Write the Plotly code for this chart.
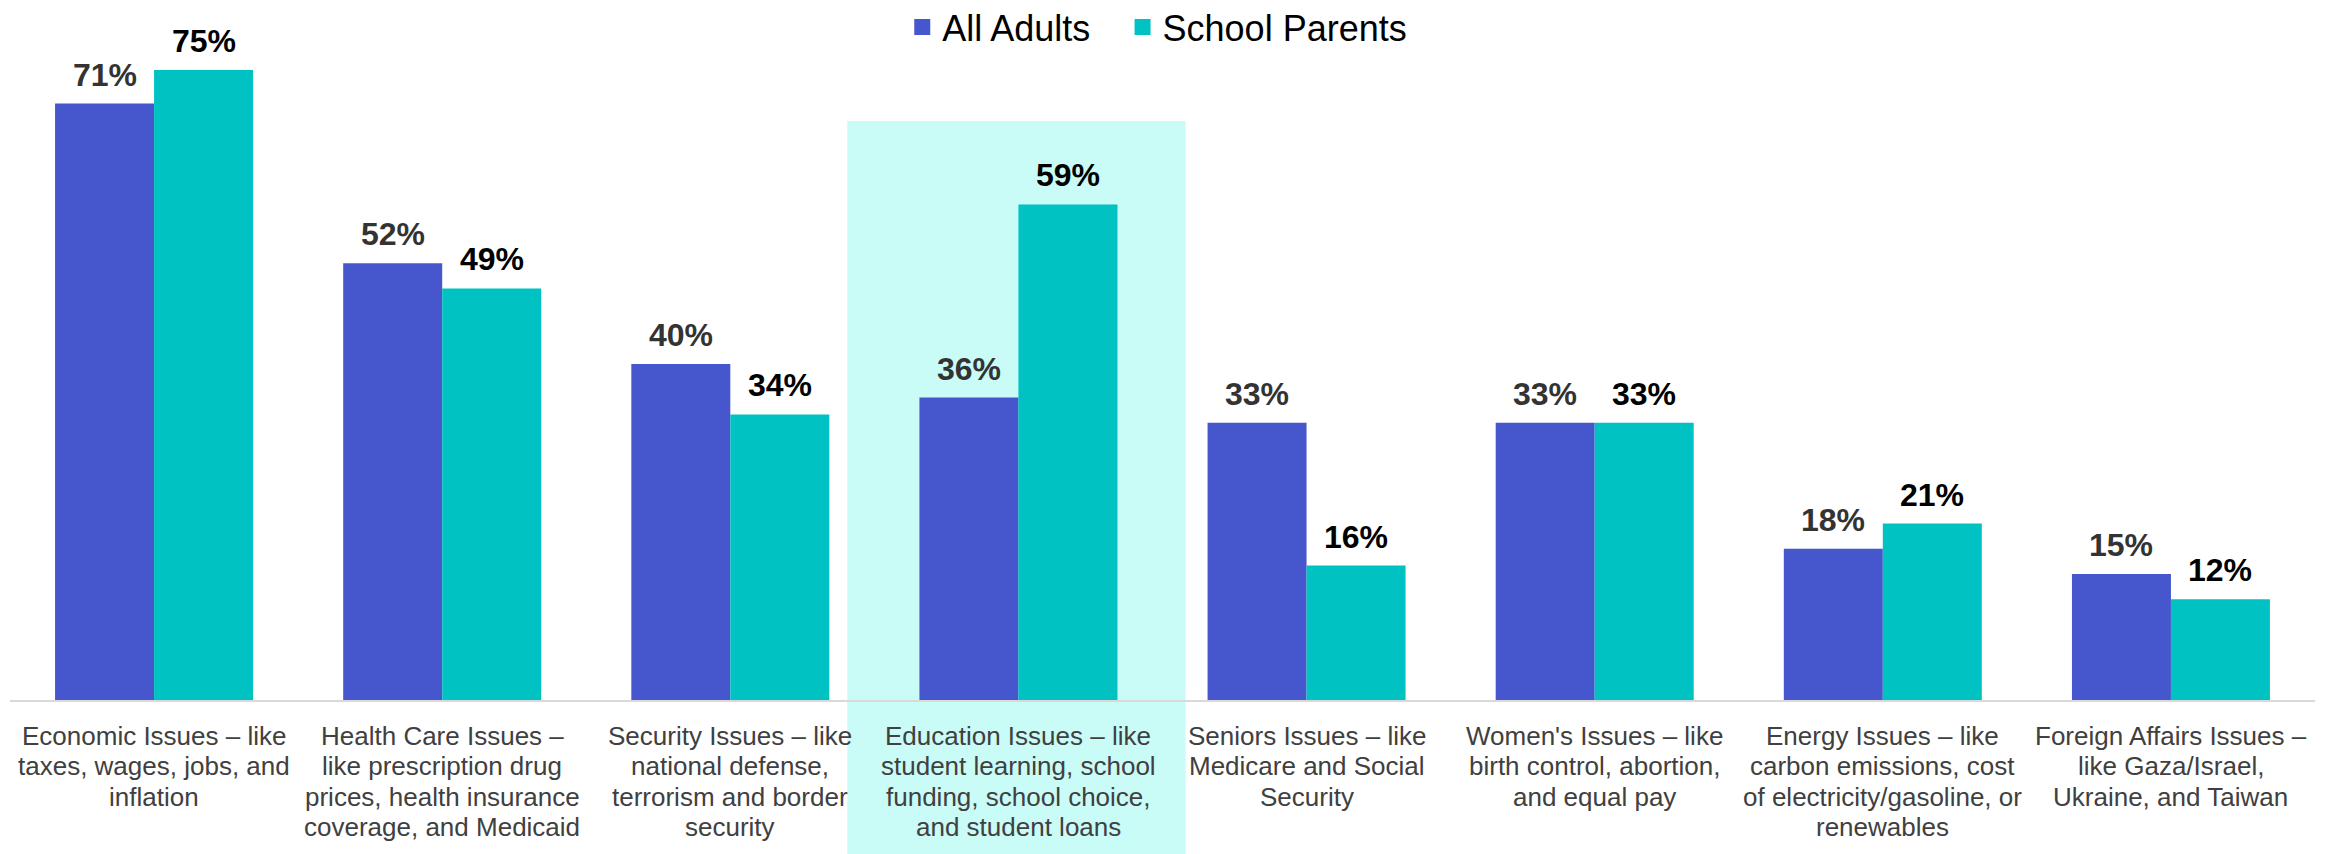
import plotly.graph_objects as go

categories = [
    "Economic Issues – like<br>taxes, wages, jobs, and<br>inflation",
    "Health Care Issues –<br>like prescription drug<br>prices, health insurance<br>coverage, and Medicaid",
    "Security Issues – like<br>national defense,<br>terrorism and border<br>security",
    "Education Issues – like<br>student learning, school<br>funding, school choice,<br>and student loans",
    "Seniors Issues – like<br>Medicare and Social<br>Security",
    "Women's Issues – like<br>birth control, abortion,<br>and equal pay",
    "Energy Issues – like<br>carbon emissions, cost<br>of electricity/gasoline, or<br>renewables",
    "Foreign Affairs Issues –<br>like Gaza/Israel,<br>Ukraine, and Taiwan",
]
all_adults = [71, 52, 40, 36, 33, 33, 18, 15]
school_parents = [75, 49, 34, 59, 16, 33, 21, 12]
series_names = ["All Adults", "School Parents"]
highlight_index = 3

BLUE = "#4656CD"
TEAL = "#00C2C2"
HIGHLIGHT = "#C9FBF7"
FONT = "Liberation Sans, Arial, sans-serif"
LABEL_COLORS = ["#333333", "#000000"]
TICK_COLOR = "#404040"

fig = go.Figure()
fig.add_trace(go.Bar(
    x=categories, y=all_adults, name=series_names[0],
    marker=dict(color=BLUE, line=dict(width=0)), showlegend=False,
))
fig.add_trace(go.Bar(
    x=categories, y=school_parents, name=series_names[1],
    marker=dict(color=TEAL, line=dict(width=0)), showlegend=False,
))
# legend proxies (larger square swatches than bar legend symbols)
legend_labels = [series_names[0] + "\u00a0\u00a0\u2009", series_names[1]]
for name, col in zip(legend_labels, [BLUE, TEAL]):
    fig.add_trace(go.Scatter(
        x=[None], y=[None], mode="markers", name=name,
        marker=dict(symbol="square", size=16, color=col),
    ))

# value labels above each bar
for series, xshift, col in [(all_adults, -49.5, LABEL_COLORS[0]),
                            (school_parents, 49.5, LABEL_COLORS[1])]:
    for cat, v in zip(categories, series):
        fig.add_annotation(
            x=cat, y=v, xref="x", yref="y", text=f"{v}%",
            showarrow=False, xanchor="center", yanchor="bottom",
            xshift=xshift, yshift=9,
            font=dict(family=FONT, size=32, color=col, weight="bold"),
        )

# category labels (one text per line for tighter line spacing)
for cat in categories:
    for k, line in enumerate(cat.split("<br>")):
        fig.add_annotation(
            x=cat, y=0, xref="x", yref="paper", text=line,
            showarrow=False, xanchor="center", yanchor="middle",
            yshift=-(36 + 30.3 * k),
            font=dict(family=FONT, size=26, color=TICK_COLOR),
        )

fig.add_shape(
    type="rect", xref="x", yref="paper",
    x0=highlight_index - 0.594, x1=highlight_index + 0.580,
    y0=-0.2292, y1=0.8616,
    fillcolor=HIGHLIGHT, line=dict(width=0), layer="below",
)

fig.update_layout(
    width=2338, height=854,
    margin=dict(l=10, r=23, t=28, b=154, autoexpand=False),
    paper_bgcolor="white", plot_bgcolor="white",
    barmode="group", bargap=0.3128, bargroupgap=0,
    font=dict(family=FONT, color=TICK_COLOR),
    legend=dict(
        orientation="h", x=0.3871, xanchor="left", y=1.0013, yanchor="middle",
        font=dict(family=FONT, size=36, color="#000000"),
        bgcolor="rgba(0,0,0,0)",
    ),
    xaxis=dict(
        showline=True, linecolor="#D9D9D9", linewidth=2,
        showgrid=False, ticks="", automargin=False, showticklabels=False,
        range=[-0.5, len(categories) - 0.5],
    ),
    yaxis=dict(
        range=[0, 80], visible=False, showgrid=False, zeroline=False,
        automargin=False,
    ),
)

fig.write_html("out.html", config={"displayModeBar": False},
               post_script="document.body.style.margin='0';")
